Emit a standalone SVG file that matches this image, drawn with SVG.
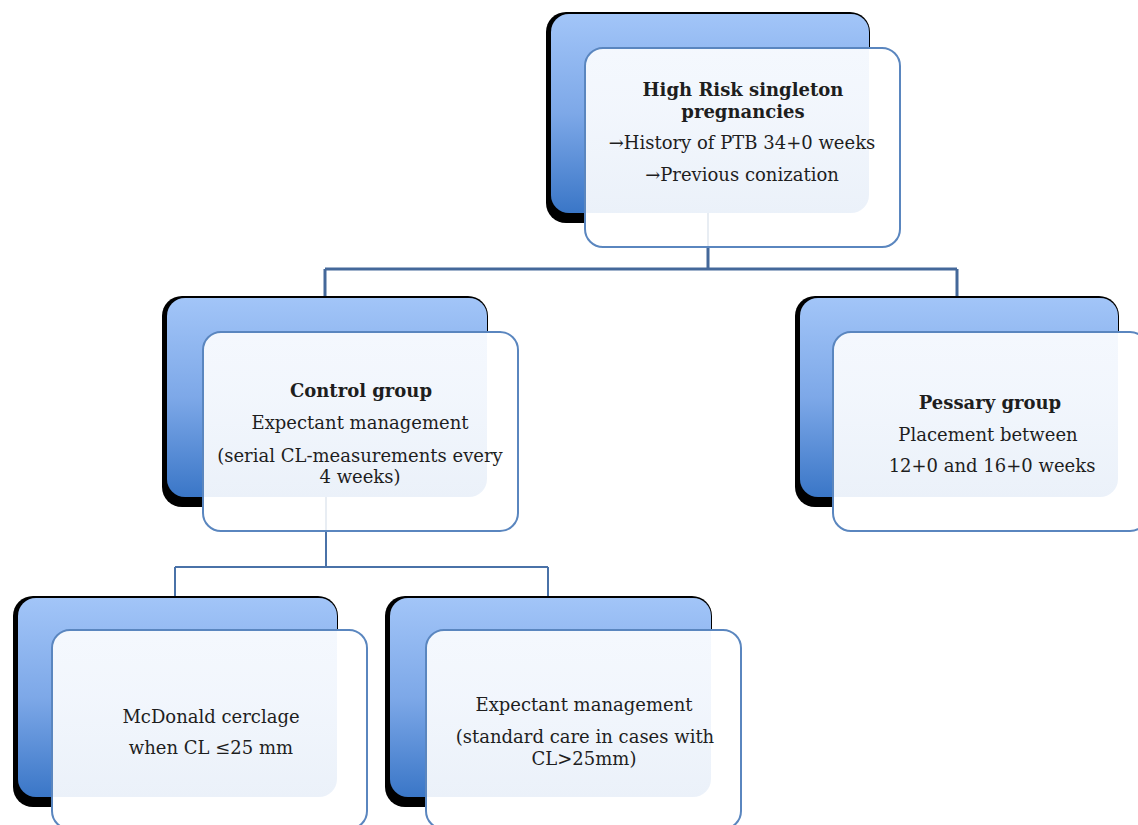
<svg xmlns="http://www.w3.org/2000/svg" width="1138" height="825" viewBox="0 0 1138 825">
<defs>
<linearGradient id="bg" x1="0" y1="0" x2="0" y2="1">
<stop offset="0" stop-color="#A2C5F8"/>
<stop offset="0.5" stop-color="#7DA8E8"/>
<stop offset="1" stop-color="#3A76C7"/>
</linearGradient>
<style>
.sh{fill:#000}
.bk{fill:url(#bg)}
.veil{fill:url(#bg);fill-opacity:0.1}
.fw{fill:#fff}
.fr{fill:none;stroke:#5A86BF;stroke-width:2}
.t{font-family:"DejaVu Serif","Liberation Serif",serif;font-size:18px;fill:#1e1e1e;text-anchor:middle}
.b{font-weight:bold}
.c1{fill:none;stroke:#44689A;stroke-width:3}
.c2{fill:none;stroke:#4A72A8;stroke-width:2}
.cf{fill:none;stroke:#44689A;stroke-width:2;stroke-opacity:0.12}
</style>
</defs>
<rect width="1138" height="825" fill="#fff"/>
<g id="connectors">
<path class="c1" d="M708 246 V269 M325 269 H957 M325 269 V298 M957 269 V298"/>
<path class="c2" d="M326 530 V567 M175 567 H548 M175 567 V598 M548 567 V598"/>
</g>
<g id="n-top">
<rect class="sh" x="546" y="12" width="324" height="211" rx="20"/>
<rect class="bk" x="551" y="14" width="318" height="199" rx="18"/>
<rect class="fw" x="585" y="48" width="315" height="199" rx="18"/>
<rect class="veil" x="551" y="14" width="318" height="199" rx="18"/>
<path class="cf" d="M708 213 V246"/>
<rect class="fr" x="585" y="48" width="315" height="199" rx="18"/>
<text class="t b" x="743" y="96">High Risk singleton</text>
<text class="t b" x="743" y="118">pregnancies</text>
<text class="t" x="742" y="149">→History of PTB 34+0 weeks</text>
<text class="t" x="742" y="181">→Previous conization</text>
</g>
<g id="n-control">
<rect class="sh" x="162" y="296" width="326" height="211" rx="20"/>
<rect class="bk" x="167" y="298" width="320" height="199" rx="18"/>
<rect class="fw" x="203" y="332" width="315" height="199" rx="18"/>
<rect class="veil" x="167" y="298" width="320" height="199" rx="18"/>
<path class="cf" d="M326 497 V530"/>
<rect class="fr" x="203" y="332" width="315" height="199" rx="18"/>
<text class="t b" x="361" y="397">Control group</text>
<text class="t" x="360" y="429">Expectant management</text>
<text class="t" x="360" y="462">(serial CL-measurements every</text>
<text class="t" x="360" y="483">4 weeks)</text>
</g>
<g id="n-pessary">
<rect class="sh" x="795" y="296" width="324" height="211" rx="20"/>
<rect class="bk" x="800" y="298" width="318" height="199" rx="18"/>
<rect class="fw" x="833" y="332" width="315" height="199" rx="18"/>
<rect class="veil" x="800" y="298" width="318" height="199" rx="18"/>
<rect class="fr" x="833" y="332" width="315" height="199" rx="18"/>
<text class="t b" x="990" y="409">Pessary group</text>
<text class="t" x="988" y="441">Placement between</text>
<text class="t" x="992" y="472">12+0 and 16+0 weeks</text>
</g>
<g id="n-cerclage">
<rect class="sh" x="13" y="596" width="325" height="211" rx="20"/>
<rect class="bk" x="18" y="598" width="319" height="199" rx="18"/>
<rect class="fw" x="52" y="630" width="315" height="199" rx="18"/>
<rect class="veil" x="18" y="598" width="319" height="199" rx="18"/>
<rect class="fr" x="52" y="630" width="315" height="199" rx="18"/>
<text class="t" x="211" y="723">McDonald cerclage</text>
<text class="t" x="211" y="754">when CL ≤25 mm</text>
</g>
<g id="n-expectant">
<rect class="sh" x="385" y="596" width="327" height="211" rx="20"/>
<rect class="bk" x="390" y="598" width="321" height="199" rx="18"/>
<rect class="fw" x="426" y="630" width="315" height="199" rx="18"/>
<rect class="veil" x="390" y="598" width="321" height="199" rx="18"/>
<rect class="fr" x="426" y="630" width="315" height="199" rx="18"/>
<text class="t" x="584" y="711">Expectant management</text>
<text class="t" x="585" y="743">(standard care in cases with</text>
<text class="t" x="584" y="765">CL&gt;25mm)</text>
</g>
</svg>
